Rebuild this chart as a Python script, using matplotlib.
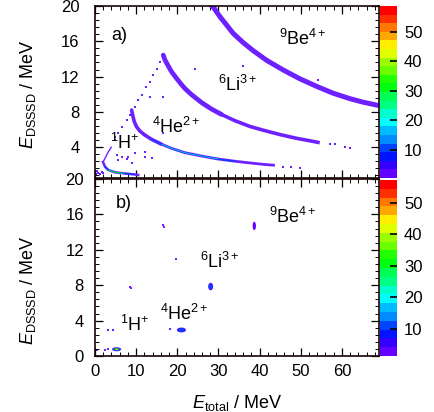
import colorsys
import matplotlib
matplotlib.use('Agg')
import matplotlib.pyplot as plt
import matplotlib.cm as cm
from matplotlib.colors import ListedColormap, Normalize
from matplotlib.patches import Ellipse
from matplotlib.ticker import MultipleLocator

plt.rcParams['font.family'] = ['Liberation Sans', 'DejaVu Sans']
plt.rcParams['mathtext.fontset'] = 'custom'
plt.rcParams['mathtext.rm'] = 'Liberation Sans'
plt.rcParams['mathtext.it'] = 'Liberation Sans:italic'

# ---- panel a) : bands (E_total, E_DSSSD in MeV)
h_rise_x = [1.95, 2.43, 3.24, 4.04]
h_rise_y = [2.3, 2.73, 3.48, 4.05]
h_dots_x = [4.85, 5.66, 6.47, 7.7, 8.5, 9.7, 10.5, 11.3, 12.5, 13.35, 14.15, 14.97, 15.8, 16.6]
h_dots_y = [4.8, 5.56, 6.3, 7.07, 7.63, 8.57, 9.33, 9.9, 10.84, 11.4, 12.16, 12.9, 13.67, 14.4]
h_low_x = [1.95, 2.43, 3.23, 4.85, 6.87, 9.3, 10.5]
h_low_y = [2.3, 1.78, 1.41, 1.15, 1.03, 0.92, 0.84]
h_left_x = [0.3, 0.8, 1.3, 1.6, 0.5, 1.1, 1.9]
h_left_y = [1.0, 1.1, 0.95, 1.2, 1.25, 0.9, 1.05]

he_x = [8.9, 9.15, 9.55, 10.1, 10.9, 12.1, 13.76, 16.2, 18.6, 21.84, 25.9, 29.9, 34.0, 36.8, 40.85, 43.7]
he_y = [8.2, 7.63, 6.88, 6.31, 5.82, 5.37, 4.88, 4.32, 3.86, 3.37, 2.99, 2.65, 2.4, 2.25, 2.05, 1.94]
he_tail_x = [45.7, 47.5, 49.8]
he_tail_y = [1.78, 1.75, 1.6]

li_x = [16.58, 16.99, 17.8, 18.6, 19.8, 21.0, 21.84, 23.46, 25.9, 28.3, 30.75, 33.98,
        37.6, 40.85, 44.9, 48.95, 52.2, 54.6]
li_y = [14.43, 13.9, 13.2, 12.55, 11.8, 11.1, 10.65, 9.95, 9.05, 8.32, 7.7, 7.0,
        6.35, 5.92, 5.43, 5.0, 4.72, 4.5]
li_tail_x = [57.0, 58.2, 60.7, 61.9]
li_tail_y = [4.32, 4.3, 4.05, 3.9]

be_x = [27.9, 28.7, 30.34, 31.96, 33.57, 36.0, 38.4, 41.67, 45.7, 49.76, 53.8, 57.8, 61.9, 65.1, 68.4]
be_y = [20.2, 19.9, 18.8, 17.85, 16.9, 15.85, 14.95, 13.85, 12.75, 11.75, 10.9, 10.12, 9.5, 9.1, 8.77]

a_dots_x = [5.26, 6.47, 8.1, 9.7, 12.1, 13.35, 16.6, 16.6, 24.3, 4.85, 7.7, 5.66, 13.8, 12.1, 8.9, 54.2, 36.0]
a_dots_y = [3.1, 2.91, 2.91, 3.3, 3.48, 9.7, 9.7, 5.56, 12.9, 5.18, 2.62, 2.54, 2.73, 2.9, 2.16, 11.6, 13.2]

# ---- panel b) : blobs (centre, extent in MeV) and single counts
blob_x = [5.25, 21.0, 28.1, 38.7]
blob_y = [0.76, 2.94, 7.85, 14.7]
blob_w = [2.2, 2.2, 1.2, 0.8]
blob_h = [0.45, 0.55, 0.85, 0.95]
b_dots_x = [0.4, 2.4, 3.2, 3.2, 4.4, 8.5, 8.8, 18.2, 19.8, 16.4, 16.7]
b_dots_y = [0.68, 0.68, 0.76, 2.94, 2.94, 7.8, 7.65, 3.1, 11.0, 14.8, 14.6]

labels = ['$^{1}$H$^{+}$', '$^{4}$He$^{2+}$', '$^{6}$Li$^{3+}$', '$^{9}$Be$^{4+}$']
lab_a_x = [7.3, 19.8, 34.8, 50.5]
lab_a_y = [4.5, 6.3, 11.1, 16.3]
lab_b_x = [9.7, 21.8, 30.3, 48.1]
lab_b_y = [3.5, 4.8, 10.65, 15.7]

cb_ticks = [10, 20, 30, 40, 50]

# ROOT "pretty" palette, 20 contour levels
pal = []
for k in range(20):
    hue = 280 - (int((k + 0.99) * 2.5) + 1) * 5.6
    pal.append(colorsys.hls_to_rgb(max(hue, 0) / 360.0, 0.5, 1.0))
cmap = ListedColormap(pal)
violet = pal[0]
band = (0.43, 0.13, 1.0)
blue = pal[3]
cyan = pal[7]
green = pal[10]
orange = pal[16]

W, H = 434, 412
fig = plt.figure(figsize=(W / 100, H / 100), dpi=100)


def box(l, t, r, b):
    return [l / W, 1 - b / H, (r - l) / W, (b - t) / H]


ax1 = fig.add_axes(box(95, 6, 379, 178))
ax2 = fig.add_axes(box(95, 179, 379, 356))
cax1 = fig.add_axes(box(380, 6, 397, 178))
cax2 = fig.add_axes(box(380, 180, 397, 356))

for ax in (ax1, ax2):
    ax.set_xlim(0, 69)
    ax.xaxis.set_major_locator(MultipleLocator(10))
    ax.xaxis.set_minor_locator(MultipleLocator(2))
    ax.yaxis.set_major_locator(MultipleLocator(4))
    ax.yaxis.set_minor_locator(MultipleLocator(0.8))
    ax.tick_params(which='both', direction='in', top=True, right=True,
                   labelsize=12, color='black')
    ax.tick_params(which='major', length=6, width=0.9)
    ax.tick_params(which='minor', length=3, width=0.7)
    ax.tick_params(axis='x', pad=6)
    for s in ax.spines.values():
        s.set_linewidth(1.2)
        s.set_color('#1a0505')

ax1.set_ylim(0.5, 20)
ax2.set_ylim(0, 20)
ax1.tick_params(axis='x', labelbottom=False)
ax1.tick_params(axis='y', pad=11)
ax2.tick_params(axis='y', pad=8)

# panel a)
ax1.plot(h_rise_x, h_rise_y, color=band, lw=1.0, solid_capstyle='butt')
ax1.scatter(h_dots_x, h_dots_y, s=1.5, marker='s', color=band, linewidths=0)
ax1.scatter(h_left_x, h_left_y, s=2.5, marker='s', color=band, linewidths=0)
ax1.plot(h_low_x, h_low_y, color=band, lw=1.8)
ax1.plot(h_low_x[1:6], h_low_y[1:6], color=blue, lw=1.0)
ax1.plot(h_low_x[2:5], h_low_y[2:5], color=green, lw=0.6)

ax1.plot(he_x[:8], he_y[:8], color=band, lw=2.6, solid_capstyle='round',
         solid_joinstyle='round')
ax1.plot(he_x[7:], he_y[7:], color=band, lw=2.0, solid_capstyle='butt',
         solid_joinstyle='round')
ax1.plot(he_x[6:13], he_y[6:13], color=blue, lw=0.9)
ax1.plot(he_x[7:12], he_y[7:12], color=cyan, lw=0.4)
ax1.scatter(he_tail_x, he_tail_y, s=2, marker='s', color=band, linewidths=0)

ax1.plot(li_x[:11], li_y[:11], color=band, lw=3.4, solid_capstyle='round',
         solid_joinstyle='round')
ax1.plot(li_x[10:], li_y[10:], color=band, lw=2.6, solid_capstyle='butt',
         solid_joinstyle='round')
ax1.scatter(li_tail_x, li_tail_y, s=2.5, marker='s', color=band, linewidths=0)

ax1.plot(be_x, be_y, color=band, lw=3.6, solid_joinstyle='round')

ax1.scatter(a_dots_x, a_dots_y, s=2, marker='s', color=band, linewidths=0)

ax1.text(6.0, 16.7, 'a)', fontsize=13, ha='center', va='center')
for t, x, y in zip(labels, lab_a_x, lab_a_y):
    ax1.text(x, y, t, fontsize=13, ha='center', va='center')

# panel b)
fills = [[violet, blue, green, orange], [violet, blue], [violet, blue], [violet]]
for x, y, w, h, cols in zip(blob_x, blob_y, blob_w, blob_h, fills):
    for i, c in enumerate(cols):
        f = 1 - 0.25 * i
        ax2.add_patch(Ellipse((x, y), w * f, h * f, color=c, lw=0))
ax2.scatter(b_dots_x, b_dots_y, s=2, marker='s', color=band, linewidths=0)

ax2.text(7.0, 17.25, 'b)', fontsize=13, ha='center', va='center')
for t, x, y in zip(labels, lab_b_x, lab_b_y):
    ax2.text(x, y, t, fontsize=13, ha='center', va='center')

ax1.set_ylabel('$E_{\\mathrm{DSSSD}}$ / MeV', fontsize=13)
ax2.set_ylabel('$E_{\\mathrm{DSSSD}}$ / MeV', fontsize=13)
ax1.yaxis.set_label_coords(-0.2, 0.49)
ax2.yaxis.set_label_coords(-0.2, 0.375)
ax2.set_xlabel('$E_{\\mathrm{total}}$ / MeV', fontsize=13)
ax2.xaxis.set_label_coords(0.5, -0.21)

# colour scales
for cax, lo, hi in ((cax1, 0.5, 58.7), (cax2, 1.3, 57.2)):
    sm = cm.ScalarMappable(norm=Normalize(lo, hi), cmap=cmap)
    cb = fig.colorbar(sm, cax=cax, ticks=cb_ticks)
    cb.outline.set_visible(False)
    cax.tick_params(direction='in', length=5, width=1.2, color='black',
                    labelsize=12, pad=5)
    cax.minorticks_off()

fig.savefig('out.png', dpi=100)
